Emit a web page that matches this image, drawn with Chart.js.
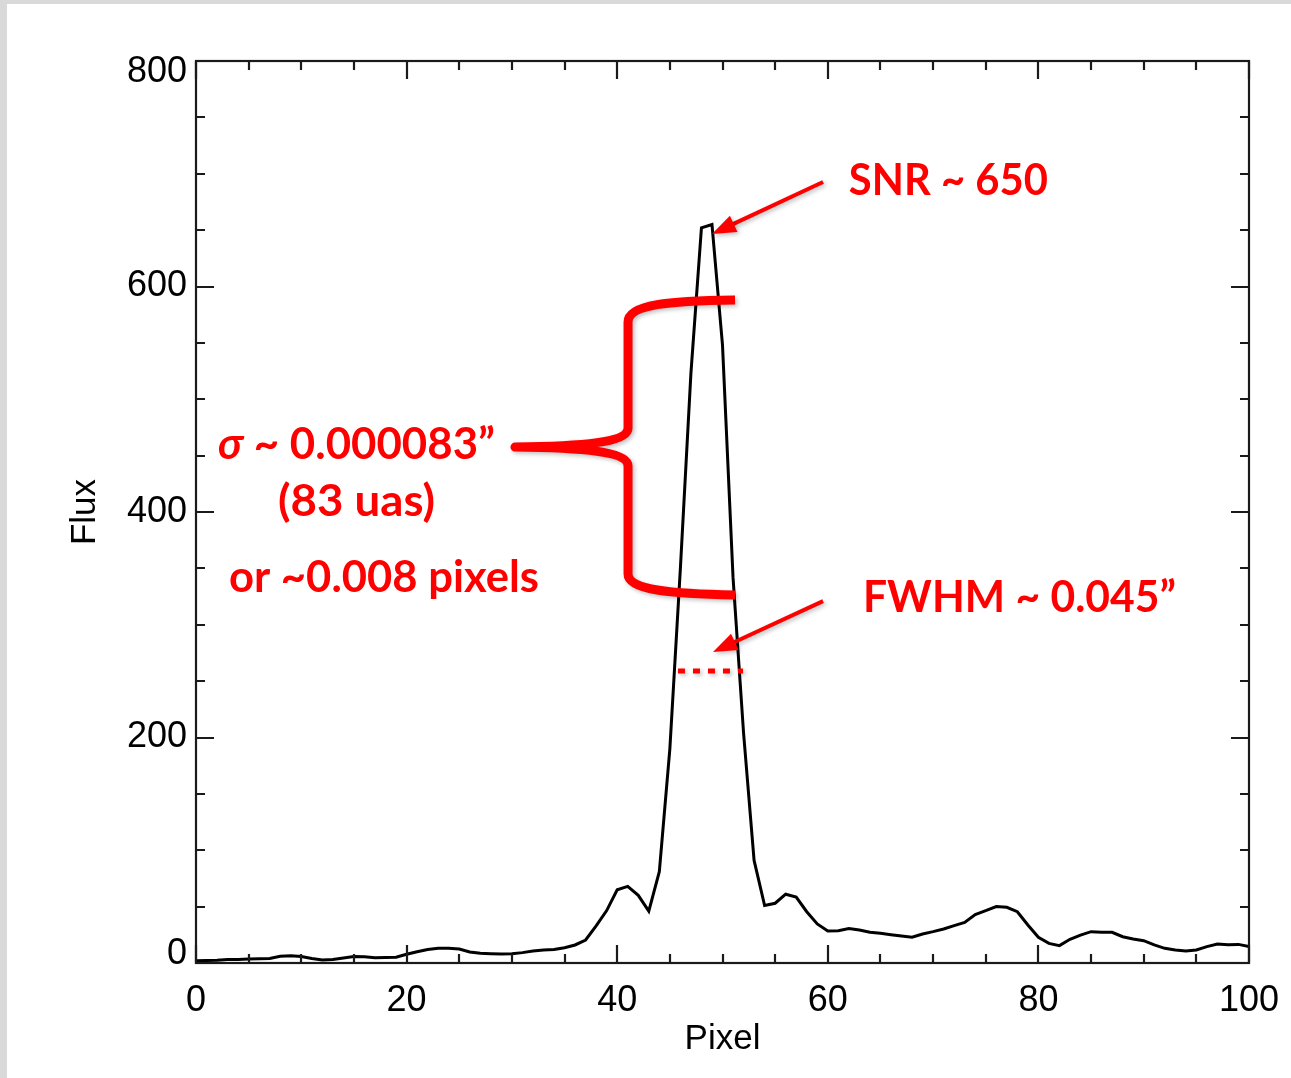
<!DOCTYPE html>
<html><head><meta charset="utf-8">
<script src="https://cdn.jsdelivr.net/npm/chart.js@4"></script>
<style>html,body{margin:0;padding:0;background:#fff;}canvas{display:block;}</style>
</head><body>
<canvas id="c" width="1291" height="1078"></canvas>
<script>
// ---- data ----
const pixels = [0,1,2,3,4,5,6,7,8,9,10,11,12,13,14,15,16,17,18,19,20,21,22,23,24,25,26,27,28,29,30,31,32,33,34,35,36,37,38,39,40,41,42,43,44,45,46,47,48,49,50,51,52,53,54,55,56,57,58,59,60,61,62,63,64,65,66,67,68,69,70,71,72,73,74,75,76,77,78,79,80,81,82,83,84,85,86,87,88,89,90,91,92,93,94,95,96,97,98,99,100];
const flux = [2,2.3,2.5,3,3.2,3.5,3.8,4,6,6.5,
  5.7,4,2.6,3.2,4.5,5.7,5.6,4.6,4.8,5.2,
  7.7,10,12,13,13,12.4,9.8,8.6,8.3,8,
  8.3,9.2,10.6,11.5,12,13.6,16,20.4,33,46.5,
  65,68,60,46,81,190,350,523,652,655,
  548,342,204,91,51,53,61,58.5,45.5,34.6,
  28.4,28.7,30.5,29.3,27.2,26.3,25.1,23.9,22.8,25.7,
  27.8,30.2,33.1,36,43,46.4,50,49.4,45.5,33.7,
  22.8,17.4,15.4,21,24.8,27.8,27.2,27.2,23.3,21.3,
  19.8,16,13,11.5,10.6,11.5,14.5,16.9,16.2,16.5,
  14.5];
const xRange = [0, 100];
const yRange = [0, 800];
const xMajorStep = 20, xMinorStep = 5;
const yMajorStep = 200, yMinorStep = 50;
const xTitle = 'Pixel';
const yTitle = 'Flux';
const snrText = 'SNR ~ 650';
const fwhmText = 'FWHM ~ 0.045\u201D';
const sigmaSymbol = '\u03C3';
const sigmaText = ' ~ 0.000083\u201D';
const uasText = '(83 uas)';
const pixText = 'or ~0.008 pixels';

// ---- style ----
const AXFONT = '"Liberation Sans", Arial, Helvetica, sans-serif';
const RED = '#ff0000';

const bgPlugin = {
  id: 'bg',
  beforeDraw(c) {
    const g = c.ctx;
    g.save();
    g.fillStyle = '#d9d9d9';
    g.fillRect(0, 0, c.width, c.height);
    g.fillStyle = '#ffffff';
    g.fillRect(7, 4, c.width - 7, c.height - 4);
    g.restore();
  }
};

function fitText(g, parts, x, y, target, align) {
  let w = 0;
  parts.forEach(p => { g.font = p.font; p.w = g.measureText(p.t).width; w += p.w; });
  let s = target / w;
  s = Math.max(0.8, Math.min(1.2, s));
  g.save();
  let x0 = align === 'center' ? x - w * s / 2 : x;
  g.translate(x0, y);
  g.scale(s, 1);
  let cx = 0;
  g.textAlign = 'left';
  g.textBaseline = 'middle';
  parts.forEach(p => { g.font = p.font; g.fillText(p.t, cx, 0); cx += p.w; });
  g.restore();
}

function arrow(g, a, b, head, half) {
  const dx = b[0] - a[0], dy = b[1] - a[1];
  const L = Math.hypot(dx, dy), ux = dx / L, uy = dy / L;
  const base = [b[0] - ux * head, b[1] - uy * head];
  g.beginPath();
  g.moveTo(a[0], a[1]);
  g.lineTo(base[0] + ux * 2, base[1] + uy * 2);
  g.stroke();
  g.beginPath();
  g.moveTo(b[0], b[1]);
  g.lineTo(base[0] - uy * half, base[1] + ux * half);
  g.lineTo(base[0] + uy * half, base[1] - ux * half);
  g.closePath();
  g.fill();
}

const framePlugin = {
  id: 'frame',
  afterDraw(c) {
    const g = c.ctx, xs = c.scales.x, ys = c.scales.y, A = c.chartArea;
    const P = (p, v) => [xs.getPixelForValue(p), ys.getPixelForValue(v)];
    g.save();
    g.strokeStyle = '#1a1a1a';
    g.lineWidth = 2.2;
    g.strokeRect(A.left, A.top, A.right - A.left, A.bottom - A.top);
    g.beginPath();
    for (let v = xRange[0]; v <= xRange[1] + 1e-9; v += xMinorStep) {
      const px = Math.round(xs.getPixelForValue(v));
      const len = (Math.abs(v % xMajorStep) < 1e-9) ? 18 : 9;
      g.moveTo(px, A.bottom); g.lineTo(px, A.bottom - len);
      g.moveTo(px, A.top); g.lineTo(px, A.top + len);
    }
    for (let v = yRange[0]; v <= yRange[1] + 1e-9; v += yMinorStep) {
      const py = Math.round(ys.getPixelForValue(v));
      const len = (Math.abs(v % yMajorStep) < 1e-9) ? 18 : 9;
      g.moveTo(A.left, py); g.lineTo(A.left + len, py);
      g.moveTo(A.right, py); g.lineTo(A.right - len, py);
    }
    g.stroke();
    g.fillStyle = '#000';
    g.font = '36px ' + AXFONT;
    g.textAlign = 'right';
    g.textBaseline = 'middle';
    ys.ticks.forEach(t => {
      let py = ys.getPixelForValue(t.value);
      py = Math.max(A.top + 11, Math.min(A.bottom - 9, py));
      g.fillText(String(t.value), A.left - 9, py);
    });
    g.restore();

    // ---- annotations ----
    g.save();
    g.fillStyle = RED;
    g.strokeStyle = RED;
    const BF = 'bold 44px Lato, "Open Sans", sans-serif';
    const IF = 'italic bold 44px Lato, "Open Sans", sans-serif';
    let p;
    p = P(62.0, 693.6); fitText(g, [{t: snrText, font: BF}], p[0], p[1], 199, 'left');
    p = P(63.34, 323.7); fitText(g, [{t: fwhmText, font: BF}], p[0], p[1], 313, 'left');
    p = P(2.09, 459.4); fitText(g, [{t: sigmaSymbol, font: IF}, {t: sigmaText, font: BF}], p[0], p[1], 277, 'left');
    p = P(15.24, 408.9); fitText(g, [{t: uasText, font: BF}], p[0], p[1], 157, 'center');
    p = P(3.13, 341.5); fitText(g, [{t: pixText, font: BF}], p[0], p[1], 310, 'left');

    g.shadowColor = 'rgba(0,0,0,0.25)';
    g.shadowBlur = 4;
    g.shadowOffsetX = 2;
    g.shadowOffsetY = 2;
    g.lineWidth = 4;
    arrow(g, P(59.55, 692.7), P(49.0, 646.6), 24, 9);
    arrow(g, P(59.55, 321.0), P(49.1, 275.8), 24, 9);
    g.lineWidth = 5;
    g.setLineDash([7, 8]);
    g.beginPath();
    let a = P(45.77, 259), b = P(51.95, 259);
    g.moveTo(a[0], a[1]); g.lineTo(b[0], b[1]);
    g.stroke();
    g.setLineDash([]);
    g.lineWidth = 9;
    g.lineJoin = 'round';
    g.lineCap = 'butt';
    g.beginPath();
    const m = (pt) => g.moveTo(...P(...pt));
    const l = (pt) => g.lineTo(...P(...pt));
    const cb = (c1, c2, e) => g.bezierCurveTo(...P(...c1), ...P(...c2), ...P(...e));
    m([51.19, 588.0]);
    cb([45.01, 587.1], [41.03, 584.5], [41.03, 568.5]);
    l([41.03, 474.5]);
    cb([41.03, 463.9], [38.37, 458.5], [30.29, 457.6]);
    cb([38.37, 456.8], [41.03, 451.4], [41.03, 440.8]);
    l([41.03, 345.0]);
    cb([41.03, 330.8], [45.01, 327.3], [51.19, 326.4]);
    g.stroke();
    g.restore();
  }
};

const ctx = document.getElementById('c').getContext('2d');
const chart = new Chart(ctx, {
  type: 'line',
  data: {
    datasets: [{
      data: pixels.map((px, i) => ({x: px, y: flux[i]})),
      borderColor: '#000',
      borderWidth: 3,
      pointRadius: 0,
      tension: 0,
      fill: false
    }]
  },
  options: {
    responsive: false,
    animation: false,
    devicePixelRatio: 1,
    layout: {padding: {left: 0, top: 61, right: 42, bottom: 0}, autoPadding: false},
    plugins: {legend: {display: false}, tooltip: {enabled: false}},
    scales: {
      x: {
        type: 'linear', min: xRange[0], max: xRange[1],
        grid: {display: false}, border: {display: false},
        ticks: {stepSize: xMajorStep, color: '#000', font: {family: AXFONT, size: 36}, padding: 8, maxRotation: 0, autoSkip: false},
        title: {display: true, text: xTitle, color: '#000', font: {family: AXFONT, size: 35}, padding: {top: 0, bottom: 18}},
        afterFit: s => { s.height = 115; s.paddingLeft = 0; s.paddingRight = 0; }
      },
      y: {
        type: 'linear', min: yRange[0], max: yRange[1],
        grid: {display: false}, border: {display: false},
        ticks: {stepSize: yMajorStep, display: false},
        title: {display: true, text: yTitle, color: '#000', font: {family: AXFONT, size: 35}, padding: {top: 64, bottom: 0}},
        afterFit: s => { s.width = 196; s.paddingTop = 0; s.paddingBottom = 0; }
      }
    }
  },
  plugins: [bgPlugin, framePlugin]
});
</script>
</body></html>
